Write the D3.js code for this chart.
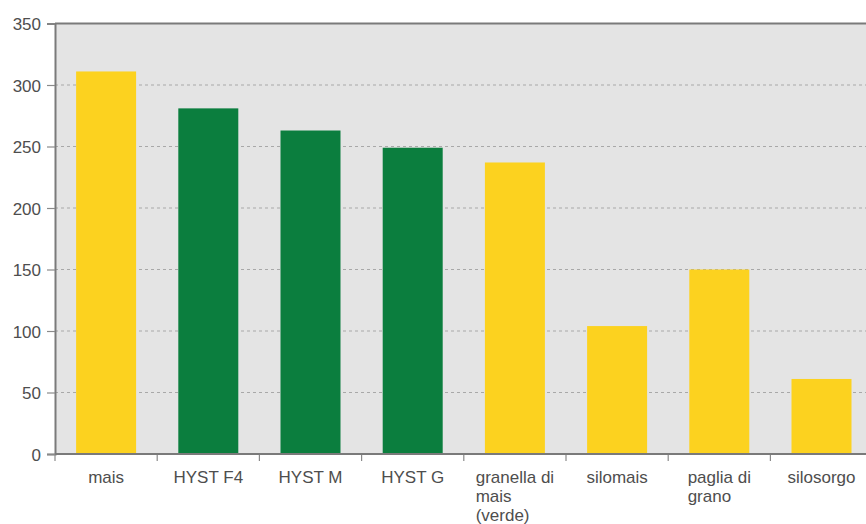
<!DOCTYPE html>
<html>
<head>
<meta charset="utf-8">
<script src="https://cdn.jsdelivr.net/npm/d3@7"></script>
<style>
  html, body { margin: 0; padding: 0; background: #ffffff; }
  svg { display: block; }
  text { font-family: "Liberation Sans", Arial, Helvetica, sans-serif; }
</style>
</head>
<body>
<svg id="chart" width="866" height="524"></svg>
<script>
// Categories (line breaks mark wrapped axis labels)
const categories = ["mais", "HYST F4", "HYST M", "HYST G", "granella di\nmais\n(verde)", "silomais", "paglia di\ngrano", "silosorgo"];
// Values per category
const values = [311, 281, 263, 249, 237, 104, 150, 61];
// Group of each bar: HYST products in green, others in yellow
const groups = ["altro", "HYST", "HYST", "HYST", "altro", "altro", "altro", "altro"];
// Y axis ticks
const yTicks = [0, 50, 100, 150, 200, 250, 300, 350];

const colors = { HYST: "#0b7e3e", altro: "#fcd21f" };

const svg = d3.select("#chart");
const plotLeft = 55, plotRight = 872.6, plotTop = 23.5, plotBottom = 454;

const x = d3.scaleBand().domain(categories).range([plotLeft, plotRight]).padding(0);
const y = d3.scaleLinear().domain([0, 350]).range([plotBottom, plotTop]);

// Plot background
svg.append("rect")
  .attr("x", plotLeft).attr("y", plotTop)
  .attr("width", plotRight - plotLeft).attr("height", plotBottom - plotTop)
  .attr("fill", "#e4e4e4");

// Dashed gridlines
svg.append("g")
  .selectAll("line")
  .data(yTicks.filter(t => t > 0 && t < 350))
  .join("line")
  .attr("x1", plotLeft).attr("x2", plotRight)
  .attr("y1", d => y(d)).attr("y2", d => y(d))
  .attr("stroke", "#a8a8a8")
  .attr("stroke-width", 1.2)
  .attr("stroke-dasharray", "3,3");

// Bars
const barW = x.bandwidth() * 0.587;
svg.append("g")
  .selectAll("rect")
  .data(categories.map((c, i) => ({ c, v: values[i], g: groups[i] })))
  .join("rect")
  .attr("x", d => x(d.c) + x.bandwidth() / 2 - barW / 2)
  .attr("y", d => y(d.v))
  .attr("width", barW)
  .attr("height", d => y(0) - y(d.v))
  .attr("fill", d => colors[d.g]);

// Top border
svg.append("line")
  .attr("x1", plotLeft).attr("x2", plotRight)
  .attr("y1", plotTop).attr("y2", plotTop)
  .attr("stroke", "#7a7a7a").attr("stroke-width", 2);

// Y axis
const yAxis = d3.axisLeft(y).tickValues(yTicks).tickSize(8).tickPadding(6);
const gy = svg.append("g").attr("transform", `translate(${plotLeft},0)`).call(yAxis);
gy.select(".domain").attr("stroke", "#7a7a7a").attr("stroke-width", 2);
gy.selectAll(".tick line").attr("stroke", "#8a8a8a").attr("stroke-width", 1.2);
gy.selectAll(".tick text")
  .attr("fill", "#4e4e4e")
  .style("font-size", "17px")
  .attr("dy", "0.36em");

// X axis with ticks at band boundaries
const gx = svg.append("g").attr("transform", `translate(0,${plotBottom})`);
gx.append("line")
  .attr("x1", plotLeft).attr("x2", plotRight)
  .attr("y1", 0).attr("y2", 0)
  .attr("stroke", "#7a7a7a").attr("stroke-width", 2);
gx.selectAll("line.tick")
  .data(categories)
  .join("line")
  .attr("class", "tick")
  .attr("x1", d => x(d)).attr("x2", d => x(d))
  .attr("y1", 1).attr("y2", 7)
  .attr("stroke", "#8a8a8a").attr("stroke-width", 1.2);

// Category labels: lines left-aligned, block centered under the band
const labels = gx.selectAll("text.lab")
  .data(categories)
  .join("text")
  .attr("class", "lab")
  .attr("fill", "#4e4e4e")
  .style("font-size", "17px")
  .attr("text-anchor", "start");

labels.each(function(d) {
  const t = d3.select(this);
  const lines = d.split("\n");
  lines.forEach((ln, i) => {
    t.append("tspan").attr("x", 0).attr("y", 29 + i * 19).text(ln);
  });
  let maxW = 0;
  t.selectAll("tspan").each(function() {
    maxW = Math.max(maxW, this.getComputedTextLength());
  });
  const cx = x(d) + x.bandwidth() / 2 - maxW / 2;
  t.selectAll("tspan").attr("x", cx);
});
</script>
</body>
</html>
